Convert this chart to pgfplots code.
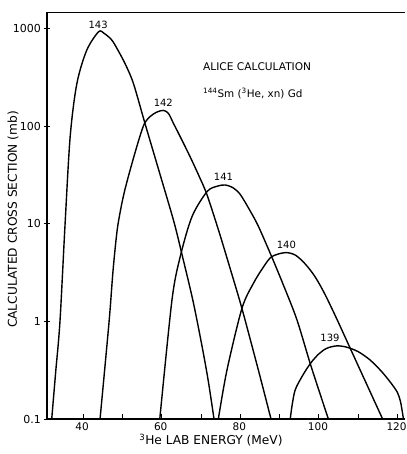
\documentclass[border=0pt]{standalone}
\usepackage{fontspec}
\setmainfont{DejaVu Sans}
\usepackage{pgfplots}
\pgfplotsset{compat=1.18}

\begin{document}
\begin{tikzpicture}
\useasboundingbox (-47pt,-35pt) rectangle (359pt,419pt);
\begin{axis}[
    scale only axis,
    width=358pt, height=407pt,
    at={(0,0)}, anchor=south west,
    ymode=log,
    xmin=30.8, xmax=121.9,
    ymin=0.1, ymax=1490,
    axis x line*=bottom,
    axis y line*=left,
    axis line style={line width=1.2pt, -},
    xtick={40,60,...,120},
    minor xtick={50,70,90,110},
    ytick={0.1,1,10,100,1000},
    yticklabels={0.1,1,10,100,1000},
    yminorticks=false,
    xtick align=inside,
    ytick align=center,
    major tick length=5pt,
    minor tick length=5pt,
    tick style={black, line width=0.9pt},
    /pgf/number format/assume math mode=true,
    yticklabel style={font=\fontsize{11}{13}\selectfont},
    xticklabel style={font=\fontsize{10.5}{13}\selectfont, xshift=-1pt},
    ylabel={CALCULATED CROSS SECTION (mb)},
    xlabel={\textsuperscript{3}He LAB ENERGY (MeV)},
    every axis y label/.style={at={(axis description cs:-0.095,0.49)}, rotate=90, anchor=center, font=\fontsize{12.2}{14}\selectfont},
    every axis x label/.style={at={(axis description cs:0.458,-0.052)}, anchor=center, font=\fontsize{12.2}{14}\selectfont},
    curve/.style={black, line width=1.4pt, no markers, smooth, tension=0.5},
    clip=true,
]
% 143
\addplot[curve] coordinates {(32.0,0.1)(33.0,0.30)(34.1,1.0)(35.4,10)(36.7,79)(38.4,275)(40.9,603)(43.9,933)(45.3,902)(47.2,776)(48.6,631)(50.7,437)(52.8,275)(55.8,105)(59.4,33.9)(63.1,10.5)(65.3,4.59)(67.9,1.66)(70.1,0.60)(71.8,0.251)(73.3,0.1)};
% 142
\addplot[curve] coordinates {(44.3,0.1)(46.6,1.0)(47.6,3.31)(48.6,8.3)(49.5,13.8)(50.5,21.4)(52.0,36.3)(54.0,69.2)(55.5,105)(57.0,126)(58.7,140)(60.4,146)(61.7,136)(63.0,107)(64.7,78.5)(67.2,49)(69.5,30.9)(71.5,20)(74.5,8.5)(77.5,3.39)(80.4,1.36)(84.6,0.316)(87.8,0.1)};
% 141
\addplot[curve] coordinates {(59.5,0.1)(62.6,1.66)(64.7,4.62)(67.7,11.9)(71.5,21.4)(74.0,24.3)(76.1,25.1)(78.2,23.4)(80.0,20.0)(82.5,13.6)(84.6,9.44)(87.8,4.79)(91.0,2.34)(94.4,1.04)(98.0,0.347)(102.4,0.1)};
% 140
\addplot[curve] coordinates {(74.4,0.1)(76.6,0.318)(80.4,1.36)(83.3,2.45)(85.9,3.63)(88.0,4.62)(91.4,5.08)(94.0,4.79)(96.5,3.89)(99.0,2.88)(101.5,1.91)(104.5,1.07)(107.9,0.537)(112.0,0.234)(116.2,0.1)};
% 139
\addplot[curve] coordinates {(92.7,0.1)(93.2,0.141)(94.0,0.201)(96.0,0.286)(98.0,0.379)(100.0,0.466)(102.0,0.531)(104.5,0.562)(107.0,0.546)(110.0,0.490)(113.0,0.403)(116.0,0.305)(118.5,0.229)(120.0,0.186)(120.8,0.148)(121.5,0.1)};

\draw[line width=1.2pt] (rel axis cs:0,1) -- (rel axis cs:1,1);

\node[font=\fontsize{10}{11}\selectfont] at (axis cs:43.8,1096) {143};
\node[font=\fontsize{10}{11}\selectfont] at (axis cs:60.4,174) {142};
\node[font=\fontsize{10}{11}\selectfont] at (axis cs:75.7,30.6) {141};
\node[font=\fontsize{10}{11}\selectfont] at (axis cs:91.7,6.1) {140};
\node[font=\fontsize{10}{11}\selectfont] at (axis cs:102.8,0.673) {139};
\node[anchor=west, inner sep=0pt, font=\fontsize{10.6}{12}\selectfont] at (axis cs:70.5,407) {ALICE CALCULATION};
\node[anchor=west, inner sep=0pt, font=\fontsize{10.4}{12}\selectfont] at (axis cs:70.5,218) {\textsuperscript{144}Sm (\textsuperscript{3}He, xn) Gd};
\end{axis}
\end{tikzpicture}
\end{document}
